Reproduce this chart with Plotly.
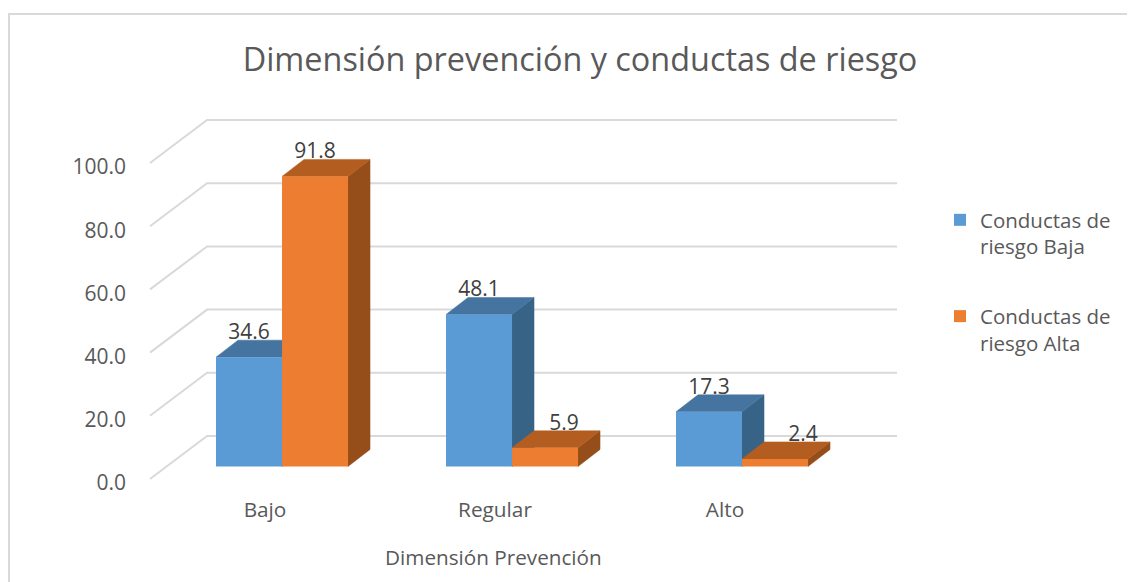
import plotly.graph_objects as go

# the page body adds 8px around the figure
PAGE_PAD = 8
W, H = 1135 - PAGE_PAD, 582 - PAGE_PAD

categories = ["Bajo", "Regular", "Alto"]
baja = [34.6, 48.1, 17.3]
alta = [91.8, 5.9, 2.4]
y_ticks = [0, 20, 40, 60, 80, 100]

FONT = "Open Sans"
GREY = "#595959"
GRID = "#d9d9d9"

# fake 3D: everything lives on one numeric x/y, depth just shifts points up and right
BAR_W = 0.287
BAR_BASE = 3.96
BAR_SHIFT = 0.074
DEPTH_X = 0.0957
DEPTH_Y = 5.38
WALL_X = 0.248
WALL_Y = 13.6
LABEL_PAD = 7.4


def px_x(p):
    return (p - PAGE_PAD) / W


def px_y(p):
    return 1 - (p - PAGE_PAD) / H


def wall_lines():
    xs, ys = [], []
    for v in y_ticks:
        xs += [-0.5, -0.5 + WALL_X, 2.5 + WALL_X, None]
        ys += [v, v + WALL_Y, v + WALL_Y, None]
    return xs, ys


def face_trace(xs, ys, color, z):
    return go.Scatter(
        x=xs, y=ys, mode="lines", fill="toself", fillcolor=color,
        line=dict(color=color, width=0.5), hoverinfo="skip",
        showlegend=False, zorder=z,
    )


def add_series(fig, values, name, offset, front, top, side, z, label_nudge):
    centers = [i + BAR_SHIFT + offset for i in range(len(values))]
    top_x, top_y, side_x, side_y = [], [], [], []
    for c, v in zip(centers, values):
        l, r = c - BAR_W / 2, c + BAR_W / 2
        t = v + BAR_BASE
        top_x += [l, r, r + DEPTH_X, l + DEPTH_X, l, None]
        top_y += [t, t, t + DEPTH_Y, t + DEPTH_Y, t, None]
        side_x += [r, r + DEPTH_X, r + DEPTH_X, r, r, None]
        side_y += [BAR_BASE, BAR_BASE + DEPTH_Y, t + DEPTH_Y, t, BAR_BASE, None]
    fig.add_trace(face_trace(side_x, side_y, side, z))
    fig.add_trace(face_trace(top_x, top_y, top, z))
    fig.add_trace(go.Bar(
        x=centers, y=values, base=[BAR_BASE] * len(values), width=BAR_W,
        marker=dict(color=front, line_width=0), name=name,
        legendgroup=name, zorder=z + 1,
    ))
    fig.add_trace(go.Scatter(
        x=[c + n for c, n in zip(centers, label_nudge)],
        y=[v + BAR_BASE + LABEL_PAD for v in values],
        mode="text", text=[f"{v:.1f}" for v in values],
        textfont=dict(family=FONT, size=21, color="#404040"),
        hoverinfo="skip", showlegend=False, zorder=10,
    ))


fig = go.Figure()

gx, gy = wall_lines()
fig.add_trace(go.Scatter(
    x=gx, y=gy, mode="lines", line=dict(color=GRID, width=2),
    hoverinfo="skip", showlegend=False, zorder=0,
))

add_series(fig, baja, "Conductas de<br>riesgo Baja", -BAR_W / 2,
           "#5B9BD5", "#44749F", "#376387", 1, [0, 0, 0])
add_series(fig, alta, "Conductas de<br>riesgo Alta", BAR_W / 2,
           "#ED7D31", "#B35E20", "#954E1A", 3, [0, 0.083, 0.122])

fig.update_layout(
    width=W, height=H,
    margin=dict(l=0, r=0, t=0, b=0),
    paper_bgcolor="white", plot_bgcolor="white",
    font=dict(family=FONT, color=GREY, size=21),
    barmode="overlay",
    title=dict(
        text="Dimensión prevención y conductas de riesgo",
        x=px_x(580), xanchor="center", y=px_y(60), yanchor="middle",
        font=dict(family=FONT, size=32.4, color=GREY),
    ),
    legend=dict(
        x=px_x(940), xanchor="left", y=px_y(200), yanchor="top",
        font=dict(family=FONT, size=20.5, color=GREY),
        tracegroupgap=40, valign="top", itemclick=False, itemdoubleclick=False,
    ),
    annotations=[dict(
        text="Dimensión Prevención", xref="paper", yref="paper",
        x=px_x(493), y=px_y(557), xanchor="center", yanchor="middle",
        showarrow=False, font=dict(family=FONT, size=20.7, color=GREY),
    )],
    shapes=[
        dict(type="line", xref="paper", yref="paper", x0=px_x(8), x1=1, y0=px_y(14), y1=px_y(14),
             line=dict(color=GRID, width=2)),
        dict(type="line", xref="paper", yref="paper", x0=px_x(9), x1=px_x(9), y0=px_y(14), y1=0,
             line=dict(color=GRID, width=2)),
    ],
)
fig.update_xaxes(
    domain=[px_x(131), px_x(910)],
    range=[(131 - 265) / 230, (910 - 265) / 230],
    tickmode="array", tickvals=list(range(len(categories))), ticktext=categories,
    tickfont=dict(family=FONT, size=20.8, color=GREY),
    showgrid=False, zeroline=False, showline=False, ticks="",
)
fig.update_yaxes(
    domain=[px_y(495), px_y(100)],
    range=[(479 - 495) / 3.16, (479 - 100) / 3.16],
    tickmode="array", tickvals=y_ticks, tickformat=".1f",
    tickfont=dict(family=FONT, size=21, color=GREY),
    ticklabelstandoff=4, ticklabelshift=4,
    showgrid=False, zeroline=False, showline=False, ticks="",
)

fig.write_html("out.html")
